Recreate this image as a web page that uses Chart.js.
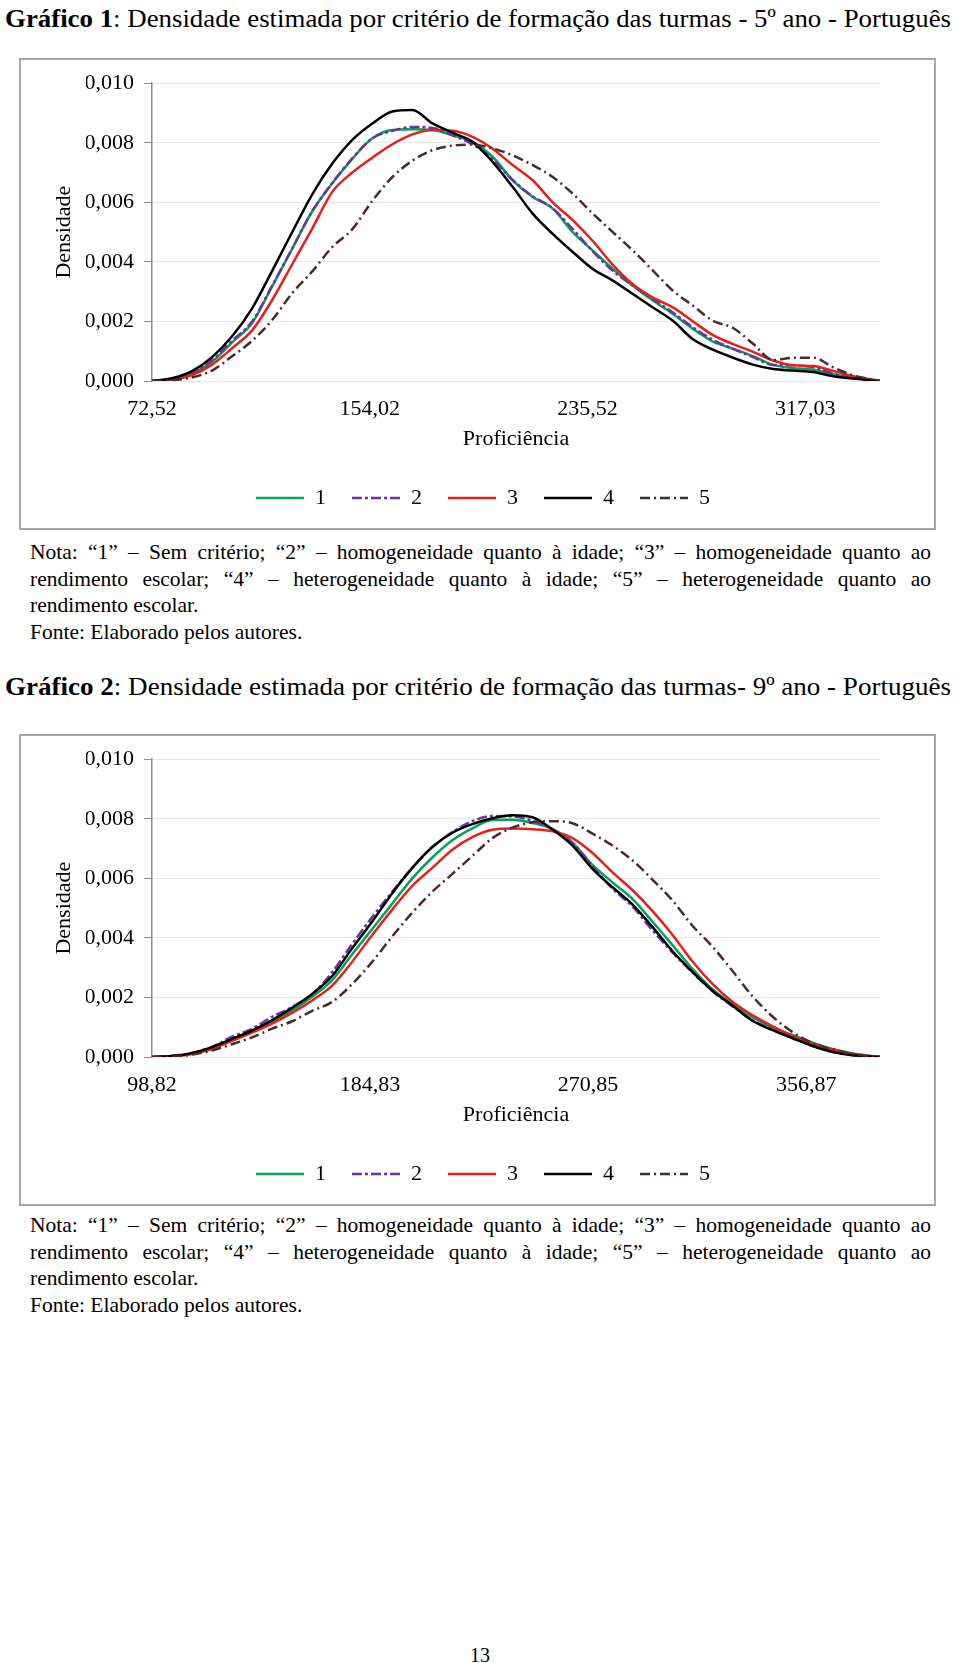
<!DOCTYPE html>
<html>
<head>
<meta charset="utf-8">
<script src="https://cdn.jsdelivr.net/npm/chart.js@4.4.1/dist/chart.umd.min.js"></script>
<style>
  body { margin: 0; width: 960px; height: 1663px; background: #fff; position: relative; overflow: hidden;
         font-family: "Liberation Serif", "Times New Roman", serif; color: #000; }
  .title { position: absolute; left: 5px; font-size: 26px; line-height: 26px; white-space: nowrap; transform-origin: left center; }
  .frame { position: absolute; left: 19px; width: 917px; height: 472px; border: 2px solid #a6a6a6; box-sizing: border-box; }
  .frame canvas { position: absolute; left: 0; top: 0; }
  .nota { position: absolute; left: 30px; width: 901px; font-size: 21.5px; line-height: 26.5px; }
  .nota .j { text-align: justify; text-align-last: justify; white-space: nowrap; }
  .page { position: absolute; left: 0; width: 960px; top: 1645px; text-align: center; font-size: 20px; line-height: 20px; }
</style>
</head>
<body>

<div class="title" style="top:6px" data-w="946"><b>Gráfico 1</b>: Densidade estimada por critério de formação das turmas - 5º ano - Português</div>
<div class="frame" style="top:58px"><canvas id="chart5" width="913" height="468"></canvas></div>
<div class="nota" style="top:539px">
  <div class="j">Nota: “1” – Sem critério; “2” – homogeneidade quanto à idade; “3” – homogeneidade quanto ao</div>
  <div class="j">rendimento escolar; “4” – heterogeneidade quanto à idade; “5” – heterogeneidade quanto ao</div>
  <div>rendimento escolar.</div>
  <div>Fonte: Elaborado pelos autores.</div>
</div>

<div class="title" style="top:674px" data-w="946"><b>Gráfico 2</b>: Densidade estimada por critério de formação das turmas- 9º ano - Português</div>
<div class="frame" style="top:734px"><canvas id="chart9" width="913" height="468"></canvas></div>
<div class="nota" style="top:1212px">
  <div class="j">Nota: “1” – Sem critério; “2” – homogeneidade quanto à idade; “3” – homogeneidade quanto ao</div>
  <div class="j">rendimento escolar; “4” – heterogeneidade quanto à idade; “5” – heterogeneidade quanto ao</div>
  <div>rendimento escolar.</div>
  <div>Fonte: Elaborado pelos autores.</div>
</div>

<div class="page">13</div>

<script>
// Gráfico 1 - 5º ano
const prof5 = [72.52, 80, 87.5, 95, 102.5, 110, 117.5, 125, 132.5, 140, 147.5, 155, 162.5, 170, 177.5, 185, 192.5,
  200, 207.5, 215, 222.5, 230, 237.5, 245, 252.5, 260, 267.5, 275, 282.5, 290, 297.5, 305, 312.5, 320, 327.5, 335, 345];
const ticks5 = [72.52, 154.02, 235.52, 317.03];
const dens5_1 = [0, 0.00007, 0.00025, 0.00065, 0.0013, 0.00195, 0.00318, 0.00444, 0.0057, 0.00664, 0.00746, 0.00815,
  0.00843, 0.00845, 0.00843, 0.00825, 0.00803, 0.00753, 0.00674, 0.00618, 0.00579, 0.005, 0.00438, 0.00376, 0.0032,
  0.0027, 0.00225, 0.00175, 0.00132, 0.00108, 0.00083, 0.00054, 0.00043, 0.00038, 0.00023, 0.00012, 0];
const dens5_2 = [0, 0.00008, 0.00027, 0.0007, 0.00135, 0.002, 0.0032, 0.00445, 0.0057, 0.00665, 0.00748, 0.00815,
  0.0084, 0.00853, 0.0085, 0.00825, 0.00795, 0.00745, 0.00675, 0.0062, 0.0058, 0.0051, 0.00435, 0.0037, 0.0032,
  0.00275, 0.0023, 0.0018, 0.00138, 0.00108, 0.0008, 0.00054, 0.00053, 0.00046, 0.00025, 0.00011, 0];
const dens5_3 = [0, 0.00005, 0.0002, 0.00055, 0.0011, 0.0017, 0.00272, 0.00392, 0.00512, 0.00635, 0.007, 0.0075,
  0.00795, 0.00828, 0.00843, 0.0084, 0.0082, 0.0078, 0.00725, 0.00674, 0.006, 0.0054, 0.0047, 0.0039, 0.00325,
  0.0028, 0.00247, 0.002, 0.00154, 0.00124, 0.00098, 0.00069, 0.00053, 0.0005, 0.00034, 0.00016, 0];
const dens5_4 = [0, 0.00009, 0.00033, 0.0008, 0.0015, 0.00244, 0.0037, 0.005, 0.00627, 0.0073, 0.0081, 0.00865,
  0.00905, 0.0091, 0.00865, 0.00834, 0.00803, 0.00736, 0.00652, 0.00562, 0.00494, 0.00433, 0.00376, 0.00337, 0.00292,
  0.00247, 0.00202, 0.0014, 0.00105, 0.00078, 0.00055, 0.0004, 0.00035, 0.0003, 0.00016, 0.00008, 0];
const dens5_5 = [0, 0.00003, 0.00012, 0.00035, 0.00083, 0.00135, 0.00205, 0.00295, 0.00368, 0.0045, 0.0051, 0.00605,
  0.00685, 0.0074, 0.00775, 0.0079, 0.00794, 0.00781, 0.00758, 0.00725, 0.00685, 0.00629, 0.00562, 0.005, 0.00438,
  0.00371, 0.00303, 0.00253, 0.00202, 0.00178, 0.00125, 0.0007, 0.00078, 0.00078, 0.00046, 0.00019, 0];

// Gráfico 2 - 9º ano
const prof9 = [98.82, 106.7, 114.6, 122.5, 130.4, 138.3, 146.2, 154.1, 162, 169.9, 177.8, 185.7, 193.6, 201.5, 209.4,
  217.3, 225.2, 233.1, 241, 248.9, 256.8, 264.7, 272.6, 280.5, 288.4, 296.3, 304.2, 312.1, 320, 327.9, 335.8, 343.7,
  351.6, 359.5, 367.4, 375.3, 386];
const ticks9 = [98.82, 184.83, 270.85, 356.87];
const dens9_1 = [0, 0.00003, 0.00012, 0.0003, 0.00058, 0.00086, 0.00118, 0.00156, 0.00202, 0.00258, 0.00345, 0.0043,
  0.00515, 0.006, 0.0067, 0.00728, 0.00768, 0.00796, 0.00797, 0.00786, 0.00765, 0.0072, 0.00645, 0.00586, 0.0053,
  0.00454, 0.00375, 0.00295, 0.00227, 0.00178, 0.00133, 0.00099, 0.00073, 0.00048, 0.00026, 0.00012, 0];
const dens9_2 = [0, 0.00004, 0.00014, 0.00034, 0.00068, 0.00095, 0.00135, 0.00168, 0.0021, 0.00285, 0.0038, 0.0047,
  0.00555, 0.00635, 0.00705, 0.00755, 0.00792, 0.00809, 0.00808, 0.00793, 0.00765, 0.0072, 0.0064, 0.00565, 0.00505,
  0.00425, 0.0035, 0.00283, 0.0022, 0.0017, 0.00123, 0.00091, 0.00063, 0.00037, 0.00017, 0.00006, 0];
const dens9_3 = [0, 0.00002, 0.0001, 0.00027, 0.00054, 0.00082, 0.00112, 0.00148, 0.0019, 0.0024, 0.0032, 0.0041,
  0.00495, 0.00575, 0.00635, 0.00696, 0.00738, 0.00763, 0.00767, 0.00765, 0.00758, 0.00735, 0.00685, 0.0062, 0.0056,
  0.0049, 0.0041, 0.0032, 0.00245, 0.00185, 0.0014, 0.00103, 0.0007, 0.00045, 0.00026, 0.0001, 0];
const dens9_4 = [0, 0.00003, 0.00013, 0.00033, 0.00061, 0.00089, 0.00124, 0.00165, 0.00212, 0.00272, 0.00365, 0.00455,
  0.0055, 0.00635, 0.00705, 0.00753, 0.00782, 0.00802, 0.00812, 0.00805, 0.00764, 0.0071, 0.00632, 0.0057, 0.00512,
  0.00436, 0.00355, 0.00285, 0.00222, 0.00172, 0.00121, 0.0009, 0.00063, 0.00037, 0.00017, 0.00006, 0];
const dens9_5 = [0, 0.00001, 0.00008, 0.00022, 0.00043, 0.00066, 0.00095, 0.0012, 0.00155, 0.00185, 0.00245, 0.0032,
  0.00405, 0.00485, 0.00555, 0.00615, 0.00675, 0.00735, 0.0077, 0.00788, 0.00792, 0.00785, 0.0075, 0.0071, 0.0066,
  0.00595, 0.00525, 0.0044, 0.0037, 0.00288, 0.00203, 0.00135, 0.00083, 0.00046, 0.00025, 0.00009, 0];

const seriesLabels = ['1', '2', '3', '4', '5'];
const seriesColors = ['#00a25c', '#7030a0', '#e3201b', '#000000', '#4a2a2a'];
const seriesDashes = [[], [10, 3, 3, 3], [], [], [10, 4, 2, 4]];

const serif = { family: '"Liberation Serif", "Times New Roman", serif', size: 22 };
const comma = (v, d) => v.toFixed(d).replace('.', ',');

function drawDensity(id, xs, xTicks, series) {
  const datasets = series.map((ys, i) => ({
    label: seriesLabels[i],
    data: xs.map((x, j) => ({ x: x, y: ys[j] })),
    borderColor: seriesColors[i],
    borderDash: seriesDashes[i],
    borderWidth: 2.5,
    pointRadius: 0,
    fill: false,
    cubicInterpolationMode: 'monotone',
    order: series.length - i
  }));

  return new Chart(document.getElementById(id), {
    type: 'line',
    data: { datasets: datasets },
    options: {
      responsive: false,
      animation: false,
      layout: { padding: { left: 65, right: 54, top: 23, bottom: 9 } },
      scales: {
        x: {
          type: 'linear',
          min: xs[0],
          max: xs[xs.length - 1],
          afterBuildTicks: scale => { scale.ticks = xTicks.map(v => ({ value: v })); },
          afterFit: scale => { scale.height = 80; },
          grid: { display: false, drawTicks: false },
          border: { display: false },
          ticks: { padding: 15, maxRotation: 0, autoSkip: false, color: '#000', font: serif,
                   callback: v => comma(v, 2) },
          title: { display: true, text: 'Proficiência', color: '#000', font: serif,
                   padding: { top: 0, bottom: 9 } }
        },
        y: {
          min: 0,
          max: 0.010,
          afterFit: scale => { scale.width = 66; },
          ticks: { stepSize: 0.002, padding: 10, color: '#000', font: serif, callback: v => comma(v, 3) },
          grid: { color: '#e6e6e6', lineWidth: 1, drawTicks: true, tickLength: 8, tickColor: '#8c8c8c' },
          border: { display: true, color: '#8c8c8c', width: 1.5 },
          title: { display: true, text: 'Densidade', color: '#000', font: serif,
                   padding: { top: -35, bottom: 0 } }
        }
      },
      plugins: {
        tooltip: { enabled: false },
        legend: {
          position: 'bottom',
          labels: {
            usePointStyle: true,
            pointStyle: 'line',
            pointStyleWidth: 48,
            padding: 26,
            color: '#000',
            font: serif,
            generateLabels: chart => chart.data.datasets.map((ds, i) => ({
              text: ds.label,
              strokeStyle: ds.borderColor,
              fillStyle: ds.borderColor,
              lineWidth: 2.5,
              lineDash: ds.borderDash,
              pointStyle: 'line',
              hidden: false,
              datasetIndex: i
            }))
          }
        }
      }
    }
  });
}

drawDensity('chart5', prof5, ticks5, [dens5_1, dens5_2, dens5_3, dens5_4, dens5_5]);
drawDensity('chart9', prof9, ticks9, [dens9_1, dens9_2, dens9_3, dens9_4, dens9_5]);

// fit the titles to the width they have in the page
document.querySelectorAll('.title').forEach(el => {
  const w = el.getBoundingClientRect().width;
  el.style.transform = 'scaleX(' + (Number(el.dataset.w) / w) + ')';
});
</script>
</body>
</html>
